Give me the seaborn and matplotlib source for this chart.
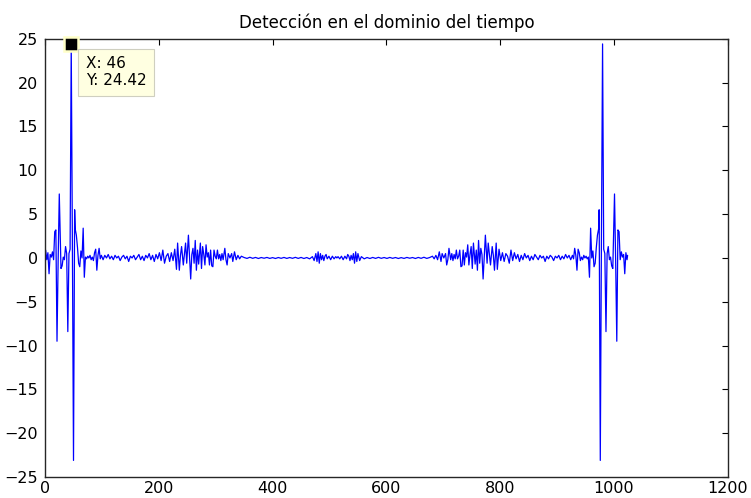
import matplotlib
matplotlib.use("Agg")
import matplotlib.pyplot as plt
import seaborn as sns
import pandas as pd

# ---- data (sample index, amplitude) ----
# left half
left_idx = [1, 3, 5, 7, 9, 11, 13, 15, 17, 19, 21, 23, 25, 27, 28, 30, 32, 34, 36, 38, 40, 42, 44, 46, 48, 50,
            52, 53, 55, 57, 59, 61, 63, 65, 67, 69, 71, 73, 75, 77, 79, 81, 83, 85, 87, 89, 91, 93, 95, 97, 99,
            102, 105, 108, 111, 114, 117, 120, 123, 126, 129, 132, 135, 138, 141, 144, 147, 150, 153, 156, 159,
            162, 165, 168, 171, 174, 177, 180, 183, 186, 189, 192, 195, 198, 201, 204, 207, 210, 213, 216, 219, 222,
            225, 228, 231, 233, 236, 238, 240, 243, 245, 247, 249, 252, 254, 256, 258, 260, 262, 264, 266, 268, 270,
            273, 275, 277, 279, 281, 283, 285, 287, 289, 291, 293, 295, 297, 299, 301, 303, 305, 307, 309, 311, 313,
            316, 318, 320, 322, 325, 328, 330, 333, 336, 339, 342, 345,
            350, 355, 360, 365, 370, 375, 380, 385, 390, 395, 400, 405, 410, 415, 420, 425, 430, 435, 440, 445, 450,
            455, 460, 465, 470,
            473, 476, 478, 480, 482, 484, 486, 488, 490, 492, 494, 496, 499, 502, 505, 508, 511, 513]
left_val = [0.9, -0.2, 0.6, -1.8, 0.4, 0.1, 0.7, -0.2, 3.0, 3.2, -9.5, -0.3, 7.3, 1.5, -1.2, -0.9, 0.1, -0.2, 1.3, 0.5, -8.4, 0.5, 1.0, 24.42, 2.0, -23.1,
            5.5, 3.3, 2.6, 1.2, -0.6, -1.0, 0.8, 0.0, 3.4, -2.2, 0.1, -0.1, 0.2, 0.0, 0.3, -0.2, 0.1, -0.3, 0.6, 1.0, -1.4, 0.3, 1.1, -0.1, 0.3,
            -0.2, 0.3, 0.0, 0.4, -0.1, 0.2, -0.2, 0.3, 0.0, 0.2, -0.3, 0.1, 0.3, -0.1, 0.2, -0.4, 0.2, 0.0, 0.3, -0.2,
            0.1, 0.4, -0.2, 0.2, -0.3, 0.3, 0.0, 0.5, -0.2, 0.3, -0.4, 0.4, -0.1, 0.6, -0.3, 0.9, -0.6, 0.2, 0.5, -0.4, 0.6,
            -0.3, 1.0, -1.3, 1.7, -1.4, 0.3, 1.3, -0.8, 0.5, 1.7, -0.6, 2.6, 0.0, -2.4, 0.4, 1.1, -0.6, 2.0, -1.4, 0.9, -0.7,
            1.7, -1.2, 1.3, 0.4, -0.8, 1.5, 0.1, 0.6, -0.8, 0.9, -0.9, -1.0, 0.9, 0.2, -0.1, 0.9, -0.1, 0.4, -0.3, 0.5, -0.2,
            1.1, -0.2, -0.8, 0.5, 0.0, 0.5, -0.4, 0.7, -0.2, 0.3, -0.1, 0.2,
            0.05, -0.05, 0.08, -0.04, 0.06, -0.06, 0.05, -0.03, 0.06, -0.05, 0.04, -0.06, 0.05, -0.04, 0.06, -0.05, 0.05, -0.04, 0.07, -0.05, 0.06,
            -0.06, 0.05, -0.1, 0.15,
            -0.3, 0.5, -0.4, 0.7, -0.6, 0.5, -0.2, 0.3, -0.3, 0.2, 0.4, -0.1, 0.2, -0.2, 0.2, -0.1, 0.15, 0.0]

# right half
right_idx = [515, 518, 521, 524, 527, 530, 532, 534, 536, 538, 540, 542, 544, 546, 548, 550, 553, 556,
             561, 566, 571, 576, 581, 586, 591, 596, 601, 606, 611, 616, 621, 626, 631, 636, 641, 646, 651, 656,
             661, 666, 671, 676,
             681, 684, 687, 690, 693, 696, 698, 701, 704, 706, 708, 710, 713, 715, 717, 719, 721, 723, 725, 727,
             729, 731, 733, 735, 737, 739, 741, 743, 745, 747, 749, 751, 753, 756, 758, 760, 762, 764, 766, 768,
             770, 772, 774, 777, 779, 781, 783, 786, 788, 790, 793, 795, 798, 801,
             804, 807, 810, 813, 816, 819, 822, 825, 828, 831, 834, 837, 840, 843, 846, 849, 852, 855, 858, 861,
             864, 867, 870, 873, 876, 879, 882, 885, 888, 891, 894, 897, 900, 903, 906, 909, 912, 915, 918, 921, 924,
             927, 929, 931, 933, 935, 937, 939, 941, 943, 945, 947, 949, 951, 953, 955, 957, 959, 961, 963, 965,
             967, 969, 971, 973, 974, 976, 978, 980, 982, 984, 986, 988, 990, 992, 994, 996, 998, 999, 1001, 1003,
             1005, 1007, 1009, 1011, 1013, 1015, 1017, 1019, 1021, 1023, 1024]
right_val = [0.15, -0.1, 0.2, -0.2, 0.2, -0.1, 0.4, 0.2, -0.3, 0.3, -0.2, 0.5, -0.6, 0.7, -0.4, 0.5, -0.3, 0.15,
             -0.1, 0.05, -0.06, 0.06, -0.05, 0.07, -0.04, 0.05, -0.05, 0.06, -0.04, 0.05, -0.06, 0.04, -0.05, 0.06, -0.03, 0.05, -0.06, 0.06,
             -0.04, 0.08, -0.05, 0.05,
             0.2, -0.1, 0.3, -0.2, 0.7, -0.4, 0.5, 0.0, 0.5, -0.8, -0.2, 1.1, -0.2, 0.5, -0.3, 0.4, -0.1, 0.9, -0.1, 0.2,
             0.9, -1.0, -0.9, 0.9, -0.8, 0.6, 0.1, 1.5, -0.8, 0.4, 1.3, -1.2, 1.7, -0.7, 0.9, -1.4, 2.0, -0.6, 1.1, 0.4,
             -2.4, 0.0, 2.6, -0.6, 1.7, 0.5, -0.8, 1.3, 0.3, -1.4, 1.7, -1.3, 1.0, -0.3,
             0.6, -0.4, 0.5, 0.2, -0.6, 0.9, -0.3, 0.6, -0.1, 0.4, -0.4, 0.3, -0.2, 0.5, 0.0, 0.3, -0.3, 0.2, -0.2, 0.4,
             0.1, -0.2, 0.3, 0.0, 0.2, -0.4, 0.2, -0.1, 0.3, 0.1, -0.3, 0.2, 0.0, 0.3, -0.2, 0.2, -0.1, 0.4, 0.0, 0.3, -0.2,
             0.3, -0.1, 1.1, 0.3, -1.4, 1.0, 0.6, -0.3, 0.1, -0.2, 0.3, 0.0, 0.2, -0.1, 0.1, -2.2, 3.4, 0.0, 0.8, -1.0,
             -0.6, 1.2, 2.6, 3.3, 5.5, -23.1, 2.0, 24.42, 1.0, 0.5, -8.4, 0.5, 1.3, -0.2, 0.1, -0.9, -1.2, 1.5, 7.3, -0.3,
             -9.5, 3.2, 3.0, -0.2, 0.7, 0.1, 0.4, -1.8, 0.6, -0.2, 0.3]

tip_x = 46
tip_y = 24.42

title_text = "Detección en el dominio del tiempo"
x_ticks = [0, 200, 400, 600, 800, 1000, 1200]
y_ticks = [-25, -20, -15, -10, -5, 0, 5, 10, 15, 20, 25]

df = pd.DataFrame({"n": left_idx + right_idx, "amp": left_val + right_val})

sns.set_style("white")
plt.rcParams["font.family"] = ["DejaVu Sans"]
plt.rcParams["text.color"] = "black"
plt.rcParams["xtick.color"] = "black"
plt.rcParams["ytick.color"] = "black"
plt.rcParams["xtick.labelcolor"] = "black"
plt.rcParams["ytick.labelcolor"] = "black"

fig = plt.figure(figsize=(7.51, 4.98), dpi=100)
ax = fig.add_axes([0.060, 0.042, 0.909, 0.880])

sns.lineplot(data=df, x="n", y="amp", color="#0000FF", linewidth=0.9, ax=ax,
             sort=True, estimator=None)

ax.set_xlim(0, 1200)
ax.set_ylim(-25, 25)
ax.set_xticks(x_ticks)
ax.set_yticks(y_ticks)
ax.set_xlabel("")
ax.set_ylabel("")
ax.set_title(title_text, fontsize=12, pad=8, color="black")

ax.tick_params(axis="both", which="both", direction="in", length=4, width=0.8,
               top=True, right=True, labelsize=11.5, colors="black")
ax.tick_params(axis="y", pad=5)
ax.tick_params(axis="x", pad=3)
for s in ax.spines.values():
    s.set_visible(True)
    s.set_color("#262626")
    s.set_linewidth(1.0)

# data tip
ax.plot([tip_x], [tip_y], marker="s", markersize=10, markerfacecolor="black",
        markeredgecolor="#FFFFC8", markeredgewidth=1.8, clip_on=False, zorder=5)
ax.annotate(f"X: {tip_x}\nY: {tip_y:.2f}", xy=(tip_x, tip_y), xytext=(10.4, -9),
            textcoords="offset points", ha="left", va="top", fontsize=11,
            linespacing=1.15, color="black",
            bbox=dict(boxstyle="square,pad=0.5", fc="#FFFFE1", ec="#CFCFC0", lw=0.8),
            zorder=6)

fig.savefig("out.png", dpi=100)
